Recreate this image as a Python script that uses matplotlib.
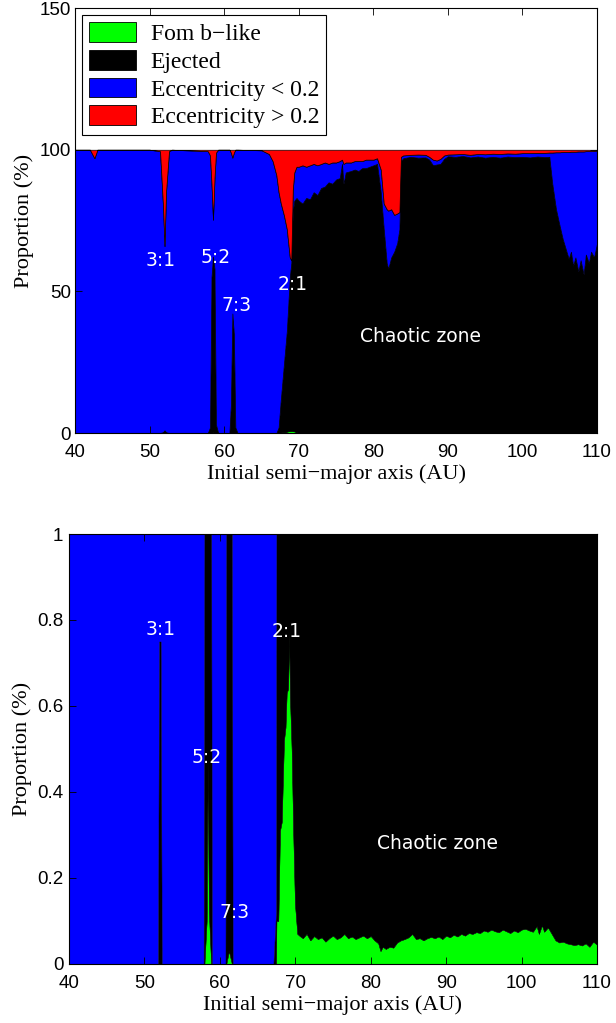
import matplotlib.pyplot as plt
import numpy as np
from matplotlib.patches import Patch

# ---- top panel data (percent) ----
a_top = [40, 42, 42.6, 43, 50, 51.4, 51.8, 52.0, 52.2, 52.6, 53, 57.8, 58.1, 58.3, 58.5,
         58.7, 58.9, 59.2, 60.7, 60.9, 61.1, 61.3, 61.5, 61.8, 65, 66, 66.5, 67, 67.3,
         67.6, 68.0, 68.4, 68.8, 69.0, 69.2, 69.4, 69.7, 70.0, 70.5, 71.0, 71.5, 72.0,
         72.5, 73.0, 73.5, 74.0, 74.5, 75.0, 75.5, 75.8, 76.0, 76.3, 77.0, 77.5, 78.0,
         78.5, 79.0, 79.5, 80.0, 80.5, 81.0, 81.4, 81.8, 82.0, 82.4, 82.8, 83.2, 83.5,
         83.7, 84.0, 85, 86, 87, 87.5, 88, 88.5, 89, 89.5, 90, 91, 92, 93, 94, 95, 96,
         97, 98, 99, 100, 101, 102, 103, 103.6, 104.0, 104.5, 105.0, 105.4, 105.8, 106.2,
         106.5, 106.8, 107.1, 107.5, 107.8, 108.2, 108.5, 108.9, 109.2, 109.6, 110]
fomb_top = [0, 0, 0, 0, 0, 0, 0, 0.5, 0, 0, 0, 0, 0, 0, 0.3,
            0, 0, 0, 0, 0, 0.2, 0, 0, 0, 0, 0, 0, 0, 0,
            0.2, 0.3, 0.5, 0.8, 0.8, 0.8, 0.6, 0.3, 0, 0, 0, 0, 0,
            0, 0, 0, 0, 0, 0, 0, 0, 0, 0, 0, 0, 0,
            0, 0, 0, 0, 0, 0, 0, 0, 0, 0, 0, 0, 0,
            0, 0, 0, 0, 0, 0, 0, 0, 0, 0, 0, 0, 0, 0, 0, 0, 0,
            0, 0, 0, 0, 0, 0, 0, 0, 0, 0, 0, 0, 0, 0,
            0, 0, 0, 0, 0, 0, 0, 0, 0, 0, 0]
ejected_top = [0, 0, 0, 0, 0, 0, 0.3, 0.5, 0.3, 0, 0, 0, 2, 55, 62,
               58, 3, 0, 0, 10, 42, 35, 2, 0, 0, 0, 0, 0, 2,
               11.8, 23.7, 35.5, 54.2, 59.2, 77.2, 81.4, 82.7, 82, 81, 83, 82.5, 85,
               84, 86.5, 87, 88.5, 88, 89.5, 90, 95, 88, 92, 92.5, 93, 92.5,
               93.5, 93.5, 94, 94.5, 95, 85, 72, 60, 58, 62, 64, 67, 72,
               96, 97, 97.5, 97.2, 97.3, 96.5, 94.5, 94.8, 95, 96.8, 97.7, 97.5, 97.8, 97.3, 97.6, 97.2, 97.5,
               97.2, 97.6, 97.4, 97.5, 97.3, 97.6, 97.4, 97.5, 88, 79, 73, 68.5, 65, 61.5,
               64, 59, 62, 57, 61, 56, 63, 60, 64, 62, 67]
lowecc_top = [100, 100, 97, 100, 100, 99.5, 79.7, 65, 84.7, 99.5, 100, 99.5, 96, 33, 13,
              32, 96, 100, 100, 89, 55, 64, 98, 100, 99.8, 98.5, 96, 91, 83,
              69, 53, 36, 7, 1, 8, 10, 11, 12, 13.5, 11, 12, 10,
              10.5, 8.5, 8.5, 6.5, 7.5, 6, 6, 1.5, 7, 3.5, 3, 3, 3.5,
              2.5, 3, 2.5, 2, 2, 8, 9, 19, 20.5, 17, 13, 10.5, 6,
              1.5, 1, 0.7, 1.1, 0.9, 1, 2, 1.4, 1.8, 1.2, 0.6, 0.9, 0.7, 0.9, 0.9, 1.2, 1.1,
              1.3, 1.1, 1.2, 1.3, 1.5, 1.3, 1.5, 1.5, 11, 20.1, 26.1, 30.7, 34.2, 37.7,
              35.3, 40.3, 37.3, 42.4, 38.4, 43.4, 36.5, 39.5, 35.5, 37.6, 32.7]
# what is left is the high eccentricity part
highecc_top = [100 - g - e - l for g, e, l in zip(fomb_top, ejected_top, lowecc_top)]

# ---- bottom panel data (fraction) ----
a_bot = [40, 51.8, 51.95, 52.15, 52.3, 57.85, 57.95, 58.25, 58.4, 58.55, 58.85, 58.95,
         60.75, 60.85, 61.2, 61.6, 61.7, 67.1, 67.45, 67.5, 67.75, 67.97, 68.2, 68.5,
         68.7, 68.86, 69.05, 69.2, 69.3, 69.52, 69.74, 69.96, 70.27, 70.6,
         71, 71.5, 72, 72.5, 73, 73.5, 74, 74.5, 75, 75.5, 76, 76.5, 77, 77.5, 78, 78.5,
         79, 79.5, 80, 80.5, 81, 81.3, 81.6, 82, 82.5, 83, 83.5, 84, 84.5, 85, 85.5, 86,
         86.5, 87, 87.5, 88, 88.5, 89, 89.5, 90, 90.5, 91, 91.5, 92, 92.5, 93, 93.5, 94,
         94.5, 95, 95.5, 96, 96.5, 97, 97.5, 98, 98.5, 99, 99.5, 100, 100.5, 101, 101.5,
         102, 102.3, 102.7, 103, 103.5, 104, 104.5, 105, 105.5, 106, 106.5, 107, 107.5,
         108, 108.5, 109, 109.5, 110]
fomb_bot = [0, 0, 0, 0, 0, 0, 0, 0.1, 0.47, 0.12, 0, 0,
            0, 0, 0.03, 0, 0, 0, 0, 0.1, 0.1, 0.31, 0.33, 0.52,
            0.55, 0.63, 0.64, 0.77, 0.62, 0.5, 0.3, 0.14, 0.07, 0.065,
            0.06, 0.07, 0.055, 0.065, 0.058, 0.062, 0.052, 0.06, 0.066, 0.058, 0.062, 0.07, 0.06, 0.064, 0.058, 0.062,
            0.066, 0.06, 0.065, 0.055, 0.048, 0.03, 0.04, 0.035, 0.04, 0.038, 0.05, 0.055, 0.058, 0.062, 0.07, 0.058,
            0.06, 0.055, 0.06, 0.063, 0.06, 0.064, 0.058, 0.066, 0.062, 0.068, 0.064, 0.07, 0.066, 0.072, 0.07, 0.074,
            0.072, 0.078, 0.075, 0.08, 0.076, 0.074, 0.08, 0.076, 0.072, 0.078, 0.074, 0.08, 0.082, 0.078, 0.075,
            0.088, 0.07, 0.09, 0.075, 0.085, 0.07, 0.055, 0.05, 0.052, 0.048, 0.046, 0.044, 0.046,
            0.043, 0.048, 0.04, 0.052, 0.045]
lowecc_bot = [1, 1, 0.25, 0.25, 1, 1, 0, 0, 0, 0, 0, 1,
              1, 0, 0, 0, 1, 1, 0.88] + [0] * 96
ejected_bot = [1 - g - l for g, l in zip(fomb_bot, lowecc_bot)]

colors = ['#00ff00', '#000000', '#0000ff', '#ff0000']
labels = ['Fom b\u2212like', 'Ejected', 'Eccentricity < 0.2', 'Eccentricity > 0.2']
serif = ['Liberation Serif', 'DejaVu Serif']
sans = ['Liberation Sans', 'DejaVu Sans']


def style_axes(ax, ypad):
    '''matlab like box with inward ticks on all sides'''
    ax.tick_params(direction='in', top=True, right=True, length=5, width=0.6,
                   labelsize=13.5)
    ax.tick_params(axis='x', pad=8)
    ax.tick_params(axis='y', pad=ypad)
    for lab in ax.get_xticklabels() + ax.get_yticklabels():
        lab.set_family(sans)
    for s in ax.spines.values():
        s.set_linewidth(0.8)
    ax.set_xlabel('Initial semi\u2212major axis (AU)', family=serif, fontsize=16, labelpad=2)
    ax.set_ylabel('Proportion (%)', family=serif, fontsize=16, labelpad=4)


def note(ax, x, y, s, size=13.5):
    ax.text(x, y, s, color='white', fontsize=size, ha='center', va='center',
            family='DejaVu Sans')


fig = plt.figure(figsize=(6.16, 10.23), dpi=100)

# top panel
ax1 = fig.add_axes([0.1218, 0.5767, 0.8474, 0.4154])
ax1.stackplot(a_top, fomb_top, ejected_top, lowecc_top, highecc_top,
              colors=colors, edgecolor='k', linewidth=0.5)
ax1.set_xlim(40, 110)
ax1.set_ylim(0, 150)
ax1.set_xticks(range(40, 111, 10))
ax1.set_yticks([0, 50, 100, 150])
style_axes(ax1, 3)
note(ax1, 51.5, 61, '3:1')
note(ax1, 58.8, 62, '5:2')
note(ax1, 61.6, 45, '7:3')
note(ax1, 69.2, 52.6, '2:1')
note(ax1, 86.3, 34, 'Chaotic zone')
handles = [Patch(facecolor=c, edgecolor='k', linewidth=0.6) for c in colors]
leg = ax1.legend(handles, labels, loc='upper left', bbox_to_anchor=(0.013, 0.983),
                 borderaxespad=0, fancybox=False, framealpha=1, edgecolor='k',
                 prop={'family': serif, 'size': 17}, handlelength=2.0, handleheight=0.9,
                 labelspacing=0.2, handletextpad=0.62, borderpad=0.3)
leg.get_frame().set_linewidth(0.8)

# bottom panel
ax2 = fig.add_axes([0.1120, 0.0577, 0.8571, 0.4203])
ax2.stackplot(a_bot, fomb_bot, ejected_bot, lowecc_bot,
              colors=colors[:3], edgecolor='k', linewidth=0.3)
ax2.set_xlim(40, 110)
ax2.set_ylim(0, 1)
ax2.set_xticks(range(40, 111, 10))
ax2.set_yticks([0, 0.2, 0.4, 0.6, 0.8, 1])
ax2.set_yticklabels(['0', '0.2', '0.4', '0.6', '0.8', '1'])
style_axes(ax2, 4)
note(ax2, 52.2, 0.777, '3:1')
note(ax2, 58.2, 0.48, '5:2')
note(ax2, 61.9, 0.119, '7:3')
note(ax2, 68.9, 0.774, '2:1')
note(ax2, 88.8, 0.281, 'Chaotic zone')

fig.savefig('out.png', dpi=100)
